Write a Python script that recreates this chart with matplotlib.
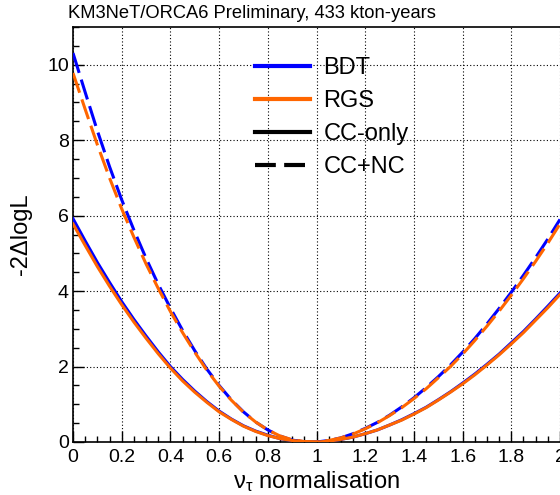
import matplotlib
matplotlib.use("Agg")
import matplotlib.pyplot as plt
from matplotlib.lines import Line2D
from matplotlib.ticker import MultipleLocator, FuncFormatter

plt.rcParams['font.family'] = ['Liberation Sans', 'DejaVu Sans']
plt.rcParams['mathtext.fontset'] = 'custom'
plt.rcParams['mathtext.rm'] = 'Liberation Sans'

# x grid of the scan
x_vals = [0.00, 0.05, 0.10, 0.15, 0.20, 0.25, 0.30, 0.35, 0.40, 0.45,
          0.50, 0.55, 0.60, 0.65, 0.70, 0.75, 0.80, 0.85, 0.90, 0.95,
          1.00, 1.05, 1.10, 1.15, 1.20, 1.25, 1.30, 1.35, 1.40, 1.45,
          1.50, 1.55, 1.60, 1.65, 1.70, 1.75, 1.80, 1.85, 1.90, 1.95, 2.00]

bdt_cc = [5.92, 5.33, 4.76, 4.23, 3.72, 3.25, 2.81, 2.39, 2.00, 1.66,
          1.35, 1.07, 0.82, 0.61, 0.43, 0.29, 0.18, 0.09, 0.04, 0.01,
          0.00, 0.02, 0.07, 0.13, 0.22, 0.32, 0.45, 0.59, 0.75, 0.92,
          1.12, 1.33, 1.56, 1.80, 2.06, 2.33, 2.63, 2.93, 3.26, 3.60, 3.95]

rgs_cc = [5.78, 5.21, 4.65, 4.13, 3.64, 3.18, 2.75, 2.34, 1.96, 1.62,
          1.32, 1.05, 0.80, 0.60, 0.42, 0.28, 0.17, 0.09, 0.04, 0.01,
          0.00, 0.02, 0.07, 0.13, 0.22, 0.32, 0.45, 0.58, 0.74, 0.91,
          1.11, 1.32, 1.54, 1.78, 2.04, 2.31, 2.60, 2.90, 3.23, 3.56, 3.91]

bdt_ccnc = [10.31, 9.27, 8.25, 7.30, 6.42, 5.62, 4.87, 4.18, 3.55, 2.96,
            2.42, 1.93, 1.50, 1.12, 0.80, 0.53, 0.32, 0.16, 0.05, 0.01,
            0.00, 0.04, 0.11, 0.22, 0.36, 0.52, 0.71, 0.93, 1.17, 1.44,
            1.73, 2.04, 2.38, 2.74, 3.13, 3.54, 3.97, 4.42, 4.89, 5.38, 5.90]

rgs_ccnc = [9.78, 8.82, 7.88, 7.00, 6.18, 5.43, 4.72, 4.07, 3.46, 2.90,
            2.38, 1.90, 1.48, 1.11, 0.79, 0.53, 0.32, 0.16, 0.06, 0.01,
            0.00, 0.04, 0.11, 0.21, 0.35, 0.51, 0.70, 0.91, 1.15, 1.41,
            1.70, 2.00, 2.33, 2.69, 3.07, 3.47, 3.89, 4.33, 4.79, 5.27, 5.78]

x_ticks = [0, 0.2, 0.4, 0.6, 0.8, 1.0, 1.2, 1.4, 1.6, 1.8, 2.0]
y_ticks = [0, 2, 4, 6, 8, 10]
legend_labels = ["BDT", "RGS", "CC-only", "CC+NC"]

BLUE = '#0000ff'
ORANGE = '#ff6600'

fig = plt.figure(figsize=(5.6, 4.95), dpi=100)
W, H = 560, 495
ax = fig.add_axes([73 / W, 53 / H, 487 / W, 415 / H])

lw = 2.2
dash = (6.8, 2.3)
ax.plot(x_vals, bdt_cc, color=BLUE, lw=lw, zorder=3)
ax.plot(x_vals, bdt_ccnc, color=BLUE, lw=lw, dashes=dash, zorder=3)
ax.plot(x_vals, rgs_cc, color=ORANGE, lw=lw, zorder=4)
ax.plot(x_vals, rgs_ccnc, color=ORANGE, lw=lw, dashes=dash, zorder=4)

ax.set_xlim(0, 2)
ax.set_ylim(0, 11)
ax.set_xticks(x_ticks)
ax.set_yticks(y_ticks)
ax.xaxis.set_minor_locator(MultipleLocator(0.05))
ax.yaxis.set_minor_locator(MultipleLocator(0.5))
fmt = FuncFormatter(lambda v, p: '%g' % v)
ax.xaxis.set_major_formatter(fmt)
ax.yaxis.set_major_formatter(fmt)
ax.tick_params(which='both', direction='in', top=False, right=False,
               labelsize=14, colors='black', width=1.0)
ax.tick_params(which='major', length=8)
ax.tick_params(which='minor', length=4)
ax.tick_params(axis='x', pad=5)
ax.tick_params(axis='y', pad=3)

ax.grid(True, which='major', color='black', linestyle=(0, (1, 2)), lw=0.8)
ax.set_axisbelow(True)
for s in ['left', 'bottom', 'top']:
    ax.spines[s].set_linewidth(1.2)
    ax.spines[s].set_color('black')
ax.spines['right'].set_visible(False)

ax.set_xlabel(r'$\mathregular{\nu_{\tau}}$ normalisation', fontsize=17)
ax.set_ylabel('-2\u0394logL', fontsize=17)
ax.xaxis.set_label_coords(0.5, -0.066)
ax.yaxis.set_label_coords(-0.084, 0.5)

handles = [Line2D([], [], color=BLUE, lw=3),
           Line2D([], [], color=ORANGE, lw=3),
           Line2D([], [], color='black', lw=3),
           Line2D([], [], color='black', lw=3, dashes=(5, 2))]
leg = ax.legend(handles, legend_labels, loc='upper left',
                bbox_to_anchor=((255 - 73) / 487, (442 - 57) / 415),
                frameon=False, fontsize=17, handlelength=2.35,
                handletextpad=0.55, labelspacing=0.47, borderpad=0,
                borderaxespad=0)

fig.text(68 / W, 1 - 18 / H, 'KM3NeT/ORCA6 Preliminary, 433 kton-years',
         fontsize=13.2, ha='left', va='baseline')

fig.savefig('out.png', dpi=100)
